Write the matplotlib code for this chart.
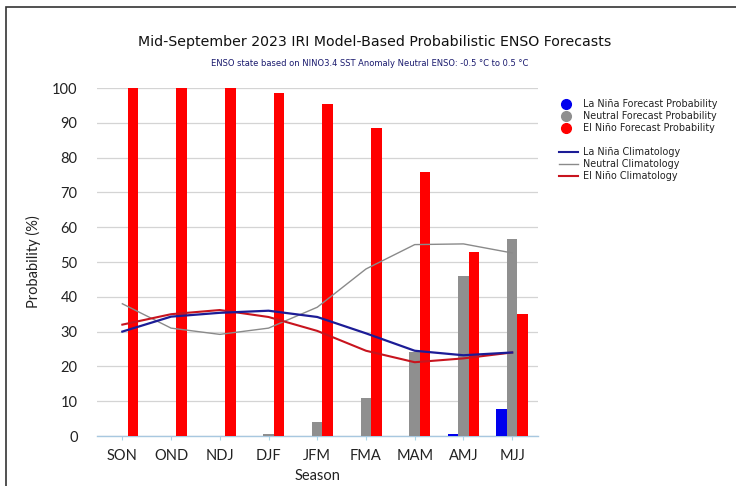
import matplotlib
matplotlib.use("Agg")
import matplotlib.pyplot as plt
import numpy as np
from matplotlib.lines import Line2D
from matplotlib.patches import Rectangle

seasons = ["SON", "OND", "NDJ", "DJF", "JFM", "FMA", "MAM", "AMJ", "MJJ"]
lanina_prob = [0, 0, 0, 0, 0, 0, 0, 0.6, 7.8]
neutral_prob = [0, 0, 0, 0.6, 4.0, 10.9, 24.0, 46.0, 56.6]
elnino_prob = [100, 100, 100, 98.6, 95.4, 88.5, 75.9, 52.9, 35.0]

lanina_clim = [30.0, 34.3, 35.4, 36.0, 34.2, 29.5, 24.5, 23.2, 24.0]
neutral_clim = [38.0, 31.0, 29.2, 31.0, 37.0, 48.0, 55.0, 55.2, 52.6]
elnino_clim = [32.0, 35.0, 36.2, 34.2, 30.2, 24.5, 21.2, 22.3, 24.0]

yticks = list(range(0, 101, 10))

title = "Mid-September 2023 IRI Model-Based Probabilistic ENSO Forecasts"
subtitle = "ENSO state based on NINO3.4 SST Anomaly Neutral ENSO: -0.5 \u00b0C to 0.5 \u00b0C"

RED = "#ff0000"
GRAY = "#8f8f8f"
BLUE = "#0000ee"

fig = plt.figure(figsize=(7.36, 4.86), dpi=100)
W, H = 736, 486
ax = fig.add_axes([97 / W, (H - 436) / H, (538 - 97) / W, (436 - 88) / H])

x = np.arange(len(seasons))
bw = 0.215
ax.bar(x - bw, lanina_prob, width=bw, color=BLUE, zorder=3)
ax.bar(x, neutral_prob, width=bw, color=GRAY, zorder=3)
ax.bar(x + bw, elnino_prob, width=bw, color=RED, zorder=3)

ax.plot(x, neutral_clim, color="#8a8a8a", lw=1.0, zorder=4)
ax.plot(x, elnino_clim, color="#c8141e", lw=1.5, zorder=4)
ax.plot(x, lanina_clim, color="#1c1c96", lw=1.6, zorder=5)

ax.set_xlim(-0.52, 8.53)
ax.set_ylim(0, 100)
ax.set_yticks(yticks)
ax.set_xticks(x)
ax.set_xticklabels(seasons, fontfamily="Lato", fontsize=10.5, color="#222222")
ax.set_yticklabels([str(t) for t in yticks], fontfamily="Lato", fontsize=10.5, color="#222222")
ax.tick_params(axis="y", length=0, pad=14)
ax.tick_params(axis="x", length=3, color="#a8d8e8", pad=6)
ax.grid(axis="y", color="#d4d4d4", lw=0.9, zorder=0)
for s in ["top", "right", "left"]:
    ax.spines[s].set_visible(False)
ax.spines["bottom"].set_color("#a8c8e0")
ax.spines["bottom"].set_linewidth(1.0)
ax.set_xlabel("Season", fontfamily="Lato", fontsize=10.5, color="#222222", labelpad=5)
ax.set_ylabel("Probability (%)", fontfamily="Lato", fontsize=10.5, color="#222222", labelpad=8)

fig.text(375 / W, 1 - 42 / H, title, ha="center", va="center",
         fontfamily="DejaVu Sans", fontsize=10.2, color="#111111")
fig.text(370 / W, 1 - 63 / H, subtitle, ha="center", va="center",
         fontfamily="DejaVu Sans", fontsize=6, color="#1a1a6e")

# legend
marker_entries = [("La Ni\u00f1a Forecast Probability", BLUE),
                  ("Neutral Forecast Probability", GRAY),
                  ("El Ni\u00f1o Forecast Probability", RED)]
for i, (lab, c) in enumerate(marker_entries):
    yy = 1 - (104 + 12 * i) / H
    fig.add_artist(Line2D([566 / W], [yy], marker="o", markersize=7, color=c,
                          linestyle="none", transform=fig.transFigure))
    fig.text(583 / W, yy, lab, ha="left", va="center", fontfamily="DejaVu Sans",
             fontsize=6.9, color="#222222")
line_entries = [("La Ni\u00f1a Climatology", "#1c1c96", 1.5),
                ("Neutral Climatology", "#8a8a8a", 1.0),
                ("El Ni\u00f1o Climatology", "#c8141e", 1.5)]
for i, (lab, c, lw) in enumerate(line_entries):
    yy = 1 - (152 + 12 * i) / H
    fig.add_artist(Line2D([559 / W, 578 / W], [yy, yy], color=c, lw=lw,
                          transform=fig.transFigure))
    fig.text(583 / W, yy, lab, ha="left", va="center", fontfamily="DejaVu Sans",
             fontsize=6.9, color="#222222")

# frame around figure
fig.add_artist(Rectangle((5.5 / W, -0.1), 1.2, 1.1 - 7 / H, fill=False,
                         edgecolor="#333333", lw=1.2, transform=fig.transFigure))

fig.savefig("out.png", dpi=100)
